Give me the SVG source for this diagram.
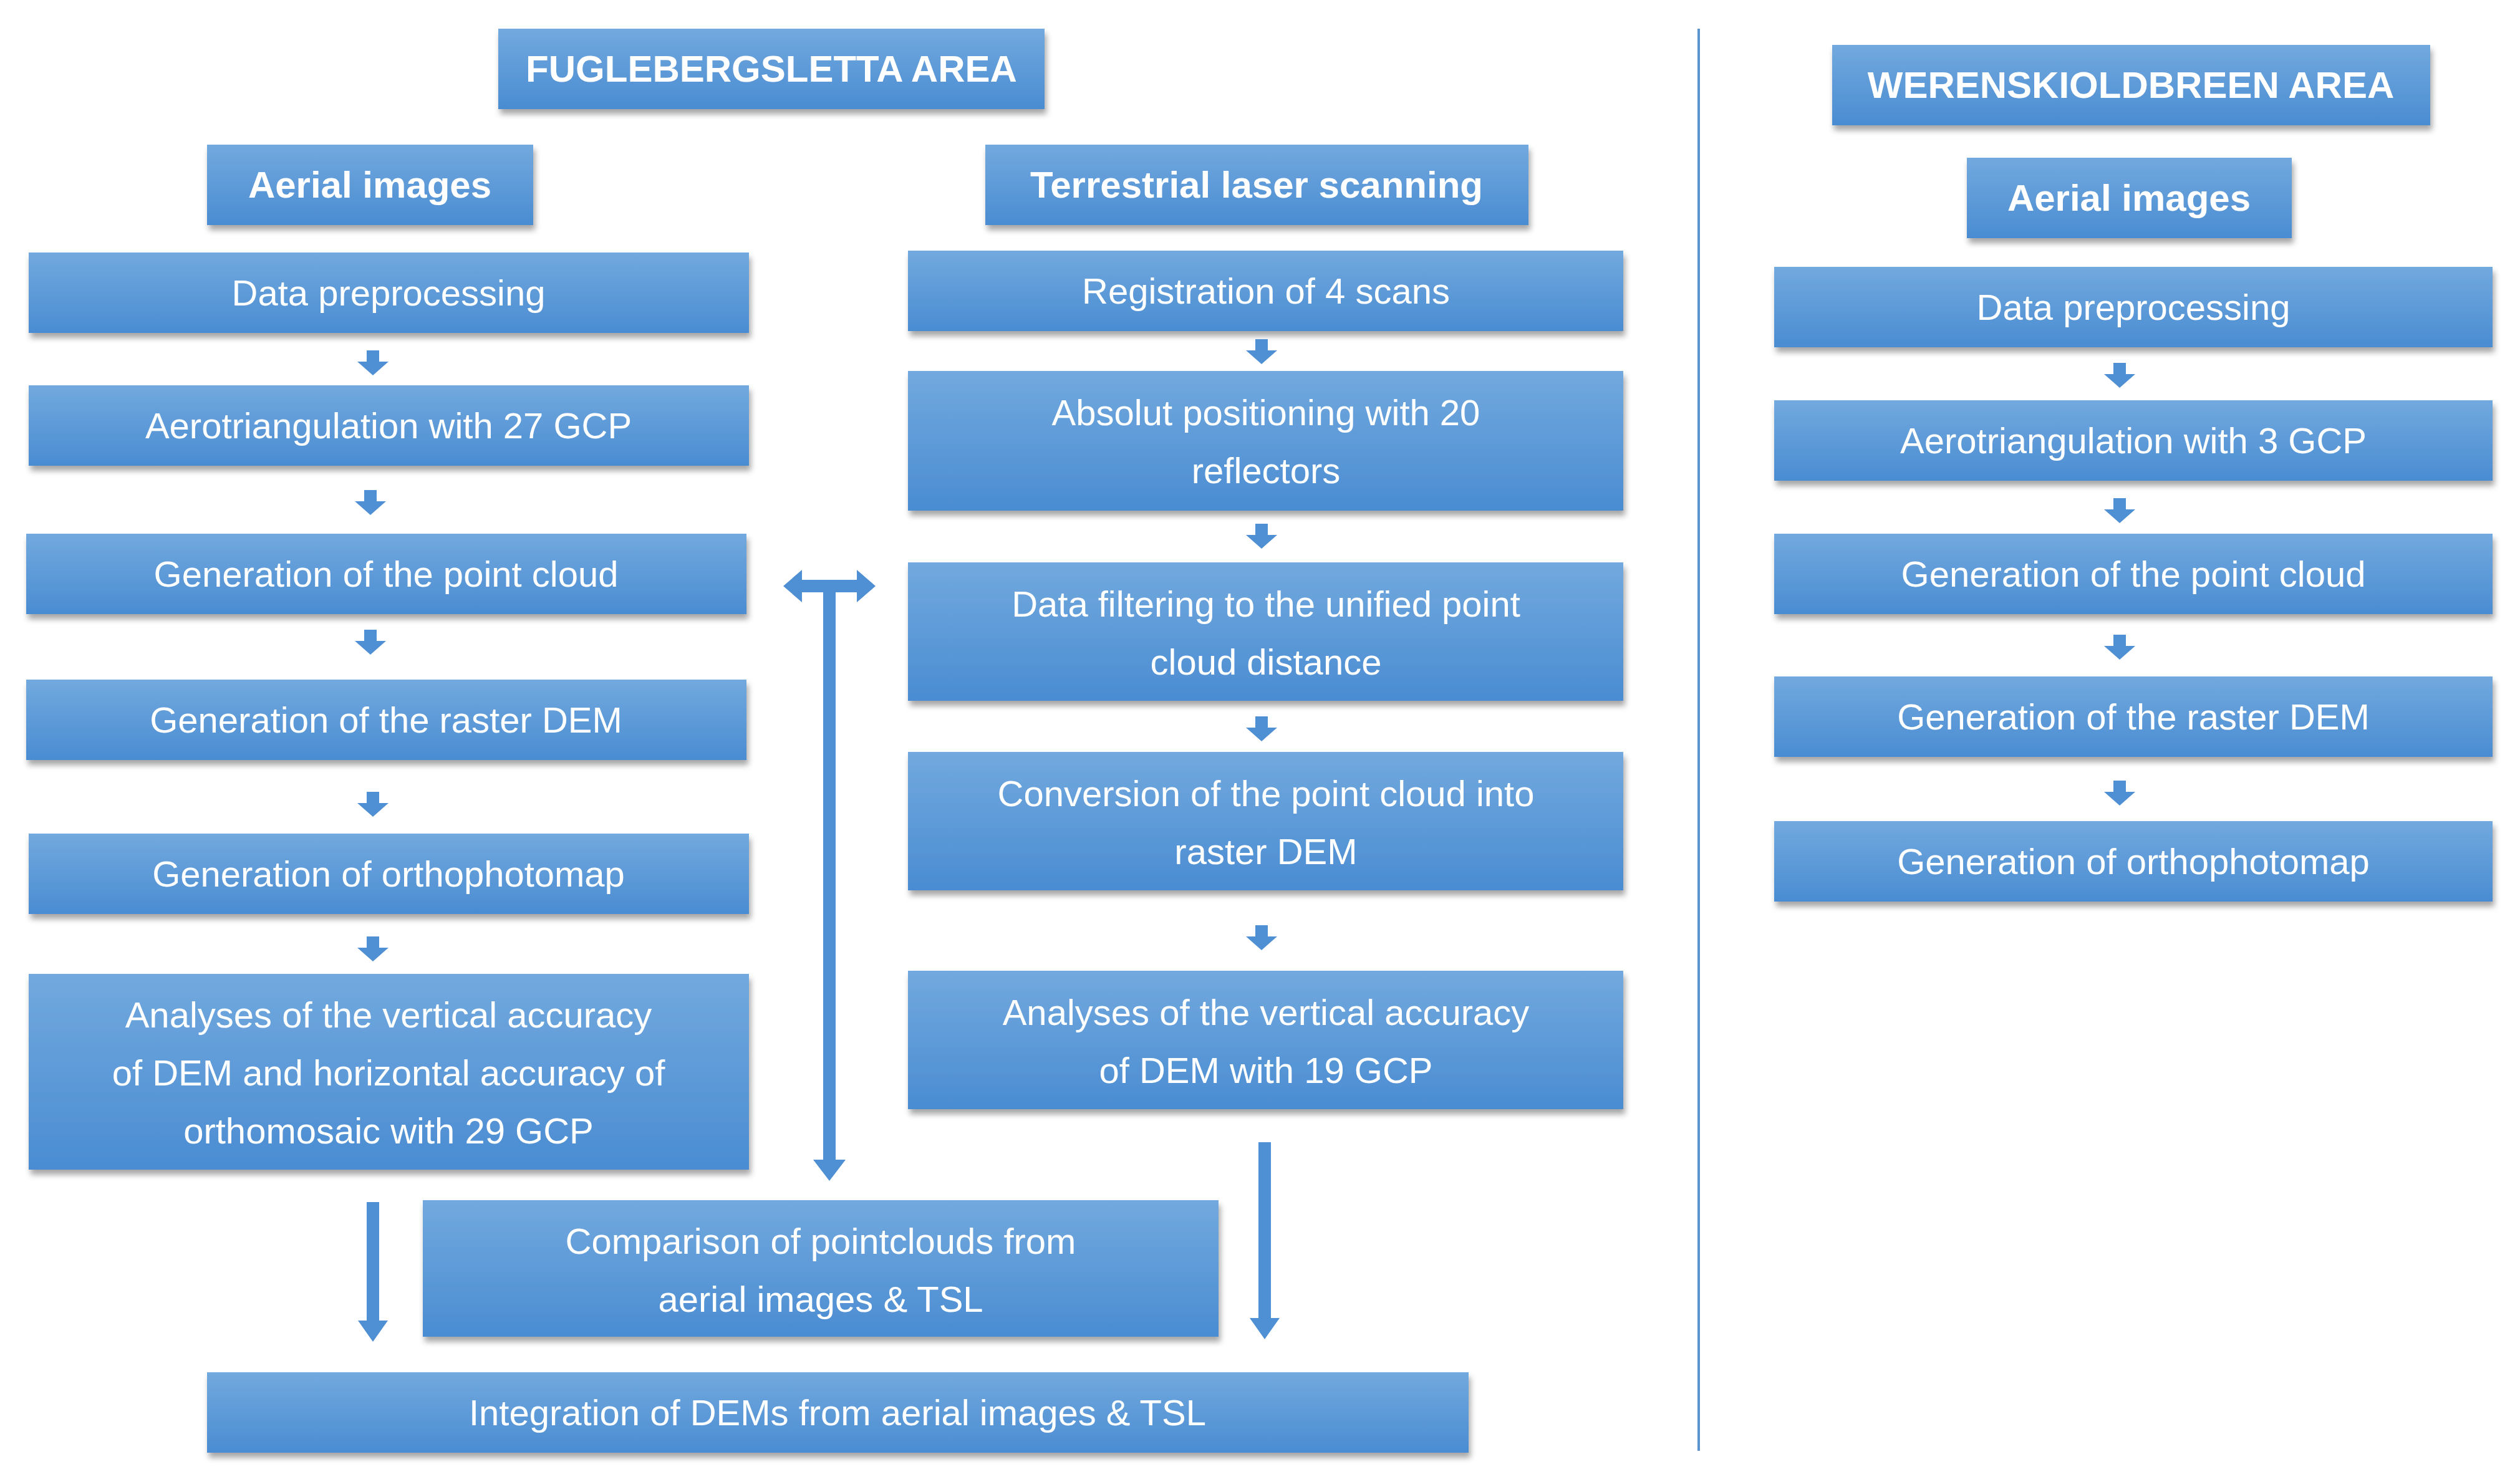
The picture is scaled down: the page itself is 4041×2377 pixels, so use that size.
<svg xmlns="http://www.w3.org/2000/svg" width="4041" height="2377" viewBox="0 0 4041 2377">
<defs>
<linearGradient id="g" x1="0" y1="0" x2="0" y2="1"><stop offset="0" stop-color="#72a9de"/><stop offset="1" stop-color="#4a8cd2"/></linearGradient>
<filter id="sh" x="-5%" y="-10%" width="110%" height="130%"><feDropShadow dx="3" dy="8" stdDeviation="5" flood-color="#000" flood-opacity="0.35"/></filter>
<path id="sa" d="M-10,0 h20 v18 h15 l-25,22 l-25,-22 h15 z"/>
</defs>
<style>
rect.b{fill:url(#g);filter:url(#sh)}
text{font-family:"Liberation Sans",Arial,sans-serif;fill:#fff;text-anchor:middle;dominant-baseline:central;font-size:58px}
text.h{font-weight:bold;font-size:60px}
.ar{fill:#4f8fd4}
</style>
<rect width="4041" height="2377" fill="#fff"/>
<line x1="2724" y1="46" x2="2724" y2="2327" stroke="#5a93cf" stroke-width="4"/>
<g id="t1"><rect class="b" x="799" y="46" width="876" height="129"/><text class="h" x="1237" y="110">FUGLEBERGSLETTA AREA</text></g>
<g id="t2"><rect class="b" x="2938" y="72" width="959" height="129"/><text class="h" x="3417" y="136">WERENSKIOLDBREEN AREA</text></g>
<g id="a1"><rect class="b" x="332" y="232" width="523" height="129"/><text class="h" x="593" y="296">Aerial images</text></g>
<g id="tls"><rect class="b" x="1580" y="232" width="871" height="129"/><text class="h" x="2015" y="296">Terrestrial laser scanning</text></g>
<g id="a2"><rect class="b" x="3154" y="253" width="521" height="129"/><text class="h" x="3414" y="317">Aerial images</text></g>
<g id="l1"><rect class="b" x="46" y="405" width="1155" height="129"/><text x="623" y="469">Data preprocessing</text></g>
<g id="l2"><rect class="b" x="46" y="618" width="1155" height="129"/><text x="623" y="682">Aerotriangulation with 27 GCP</text></g>
<g id="l3"><rect class="b" x="42" y="856" width="1155" height="129"/><text x="619" y="920">Generation of the point cloud</text></g>
<g id="l4"><rect class="b" x="42" y="1090" width="1155" height="129"/><text x="619" y="1154">Generation of the raster DEM</text></g>
<g id="l5"><rect class="b" x="46" y="1337" width="1155" height="129"/><text x="623" y="1401">Generation of orthophotomap</text></g>
<g id="l6"><rect class="b" x="46" y="1562" width="1155" height="314"/><text x="623" y="1627">Analyses of the vertical accuracy</text><text x="623" y="1720">of DEM and horizontal accuracy of</text><text x="623" y="1813">orthomosaic with 29 GCP</text></g>
<g id="m1"><rect class="b" x="1456" y="402" width="1147" height="129"/><text x="2030" y="466">Registration of 4 scans</text></g>
<g id="m2"><rect class="b" x="1456" y="595" width="1147" height="224"/><text x="2030" y="661">Absolut positioning with 20</text><text x="2030" y="754">reflectors</text></g>
<g id="m3"><rect class="b" x="1456" y="902" width="1147" height="222"/><text x="2030" y="968">Data filtering to the unified point</text><text x="2030" y="1061">cloud distance</text></g>
<g id="m4"><rect class="b" x="1456" y="1206" width="1147" height="222"/><text x="2030" y="1272">Conversion of the point cloud into</text><text x="2030" y="1365">raster DEM</text></g>
<g id="m5"><rect class="b" x="1456" y="1557" width="1147" height="222"/><text x="2030" y="1623">Analyses of the vertical accuracy</text><text x="2030" y="1716">of DEM with 19 GCP</text></g>
<g id="cmp"><rect class="b" x="678" y="1925" width="1276" height="219"/><text x="1316" y="1990">Comparison of pointclouds from</text><text x="1316" y="2083">aerial images &amp; TSL</text></g>
<g id="int"><rect class="b" x="332" y="2201" width="2023" height="129"/><text x="1343" y="2265">Integration of DEMs from aerial images &amp; TSL</text></g>
<g id="r1"><rect class="b" x="2845" y="428" width="1152" height="129"/><text x="3421" y="492">Data preprocessing</text></g>
<g id="r2"><rect class="b" x="2845" y="642" width="1152" height="129"/><text x="3421" y="706">Aerotriangulation with 3 GCP</text></g>
<g id="r3"><rect class="b" x="2845" y="856" width="1152" height="129"/><text x="3421" y="920">Generation of the point cloud</text></g>
<g id="r4"><rect class="b" x="2845" y="1085" width="1152" height="129"/><text x="3421" y="1149">Generation of the raster DEM</text></g>
<g id="r5"><rect class="b" x="2845" y="1317" width="1152" height="129"/><text x="3421" y="1381">Generation of orthophotomap</text></g>
<g id="connectors" class="ar">
<use href="#sa" x="598" y="562"/><use href="#sa" x="594" y="786"/><use href="#sa" x="594" y="1010"/><use href="#sa" x="598" y="1270"/><use href="#sa" x="598" y="1502"/>
<use href="#sa" x="2023" y="544"/><use href="#sa" x="2023" y="840"/><use href="#sa" x="2023" y="1149"/><use href="#sa" x="2023" y="1484"/>
<use href="#sa" x="3399" y="582"/><use href="#sa" x="3399" y="799"/><use href="#sa" x="3399" y="1018"/><use href="#sa" x="3399" y="1252"/>
<path d="M588,1928 h20 v190 h14 l-24,34 l-24,-34 h14 z"/>
<path d="M2018,1832 h20 v282 h14 l-24,34 l-24,-34 h14 z"/>
<path d="M1320,950 v910 h-16 l26,34 l26,-34 h-16 v-910 h34 v16 l30,-26 l-30,-26 v16 h-88 v-16 l-30,26 l30,26 v-16 z"/>
</g>
</svg>
